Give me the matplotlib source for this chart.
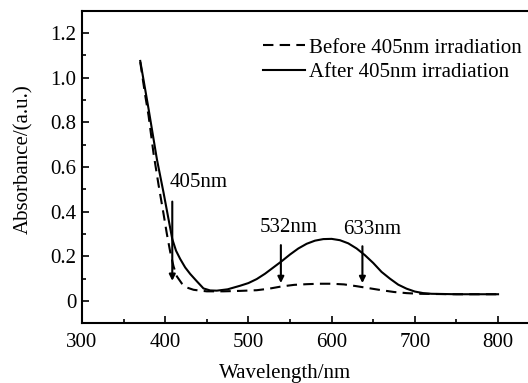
import matplotlib
matplotlib.use("Agg")
import matplotlib.pyplot as plt
from matplotlib.ticker import MultipleLocator, FuncFormatter

plt.rcParams['font.family'] = ['Liberation Serif', 'DejaVu Serif']
plt.rcParams['font.size'] = 15

# ---- data ----
wl_before = [370, 376, 380, 386, 392, 398, 402, 406, 410, 414, 420, 426, 434, 442, 450,
             470, 490, 510, 525, 540, 555, 570, 585, 600, 615, 630, 645, 660, 675, 690,
             705, 725, 750, 800]
abs_before = [1.07, 0.92, 0.83, 0.66, 0.52, 0.39, 0.30, 0.22, 0.155, 0.11, 0.078, 0.06,
              0.05, 0.046, 0.043, 0.043, 0.045, 0.048, 0.055, 0.065, 0.072, 0.075, 0.077,
              0.077, 0.074, 0.066, 0.057, 0.048, 0.04, 0.035, 0.032, 0.031, 0.03, 0.03]

wl_after = [370, 380, 390, 398, 404, 408.5, 413, 418, 424, 430, 438, 446, 454, 462, 475,
            490, 500, 510, 520, 530, 540, 550, 560, 570, 580, 590, 600, 610, 620, 630,
            640, 650, 660, 670, 680, 690, 700, 710, 720, 750, 800]
abs_after = [1.075, 0.86, 0.635, 0.485, 0.366, 0.277, 0.225, 0.188, 0.15, 0.121, 0.088,
             0.056, 0.047, 0.046, 0.052, 0.068, 0.08, 0.098, 0.122, 0.15, 0.178, 0.208,
             0.235, 0.256, 0.27, 0.277, 0.278, 0.272, 0.258, 0.235, 0.205, 0.17, 0.13,
             0.1, 0.073, 0.055, 0.042, 0.035, 0.032, 0.03, 0.03]

# arrows: (label, x, top, tip, text x, text y, alignment)
marks = [
    ("405nm", 408.5, 0.445, 0.09, 405, 0.53, 'left'),
    ("532nm", 539, 0.25, 0.08, 548, 0.33, 'center'),
    ("633nm", 637, 0.245, 0.08, 649, 0.32, 'center'),
]

fig = plt.figure(figsize=(5.28, 3.83), dpi=100)
ax = fig.add_axes([0.1553, 0.156, 0.8447, 0.816])

ax.plot(wl_before, abs_before, color='black', lw=1.5, linestyle=(0, (5, 3)),
        label='Before 405nm irradiation')
ax.plot(wl_after, abs_after, color='black', lw=1.5, label='After 405nm irradiation')

for name, x, top, tip, tx, ty, ha in marks:
    ax.annotate('', xy=(x, tip), xytext=(x, top),
                arrowprops=dict(arrowstyle='-|>', lw=1.5, color='black',
                                mutation_scale=9, shrinkA=0, shrinkB=0))
    ax.text(tx, ty, name, ha=ha, va='center')

ax.set_xlim(300, 836)
ax.set_ylim(-0.1, 1.3)
ax.xaxis.set_major_locator(MultipleLocator(100))
ax.xaxis.set_minor_locator(MultipleLocator(50))
ax.yaxis.set_major_locator(MultipleLocator(0.2))
ax.yaxis.set_minor_locator(MultipleLocator(0.1))
ax.yaxis.set_major_formatter(FuncFormatter(lambda v, p: '0' if abs(v) < 1e-9 else f'{v:.1f}'))
ax.set_xticks([300, 400, 500, 600, 700, 800])

ax.tick_params(which='both', direction='in', top=False, right=False, width=1.2)
ax.tick_params(which='major', length=5)
ax.tick_params(which='minor', length=3)
ax.tick_params(axis='x', pad=7)
ax.tick_params(axis='y', pad=4)
ax.spines['right'].set_visible(False)
for s in ['left', 'bottom', 'top']:
    ax.spines[s].set_linewidth(1.5)

ax.set_xlabel('Wavelength/nm')
ax.xaxis.set_label_coords(0.455, -0.13)
ax.set_ylabel('Absorbance/(a.u.)')
ax.yaxis.set_label_coords(-0.11, 0.526)

fig.legend(loc='upper left', bbox_to_anchor=(0.479, 0.928), frameon=False,
           borderpad=0, handlelength=2.0, handletextpad=0.2, labelspacing=0.25)

fig.savefig('out.png', dpi=100)
